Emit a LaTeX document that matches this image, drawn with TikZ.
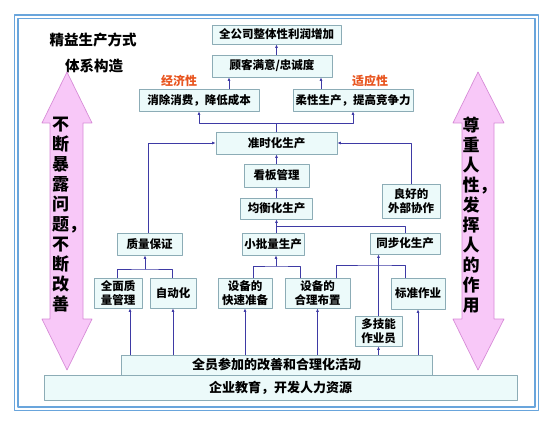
\documentclass[tikz,border=0pt]{standalone}
\usepackage{fontspec}
\setmainfont{Noto Sans CJK SC}
\usetikzlibrary{arrows.meta,calc}
\definecolor{linkblue}{RGB}{62,58,165}
\definecolor{boxedge}{RGB}{140,172,182}
\definecolor{boxfill}{RGB}{236,250,250}
\definecolor{framecol}{RGB}{105,165,220}
\definecolor{pinkfill}{RGB}{248,200,248}
\definecolor{pinkedge}{RGB}{215,140,215}
\definecolor{tagred}{RGB}{232,84,30}
\tikzset{
  >={Latex[length=3.5pt,width=3pt]},
  box/.style={draw=boxedge, fill=boxfill, line width=0.8pt, inner sep=0pt, align=center,
    font=\fontsize{11.5}{14.5}\selectfont\bfseries},
  widebox/.style={box, font=\fontsize{13}{15}\selectfont\bfseries},
  conn/.style={->, draw=linkblue, line width=0.9pt},
  link/.style={draw=linkblue, line width=0.9pt},
  tag/.style={text=tagred, font=\fontsize{12}{14}\selectfont\bfseries},
  headline/.style={font=\fontsize{14.5}{17}\selectfont\bfseries},
  bigarrow/.style={fill=pinkfill, draw=pinkedge, line width=0.7pt},
  vtext/.style={align=left, anchor=west, inner sep=0pt, font=\fontsize{17}{20}\selectfont\bfseries}
}

\begin{document}
\begin{tikzpicture}[x=1pt, y=-1pt, line cap=round, line join=round]
    \useasboundingbox (0,0) rectangle (554,425);

    % double frame
    \draw[framecol, line width=1.8pt] (14.5,15) rectangle (538.5,410.5);
    \draw[framecol, line width=1.8pt] (18,18.5) rectangle (535,407);

    \node[headline] (title) at (93,40) {精益生产方式};
    \node[headline] (subtitle) at (94,66) {体系构造};

    % side arrows
    \draw[bigarrow] (67,72) -- (92,123) -- (83,123) -- (83,319) -- (92,319)
        -- (67,370) -- (42,319) -- (50,319) -- (50,123) -- (42,123) -- cycle;
    \draw[bigarrow] (478,72) -- (504,123) -- (494,123) -- (494,319) -- (504,319)
        -- (478,370) -- (453,319) -- (462,319) -- (462,123) -- (453,123) -- cycle;
    \node[vtext] (leftmotto) at (52,215) {不\\断\\暴\\露\\问\\题，\\不\\断\\改\\善};
    \node[vtext] (rightmotto) at (462.5,215) {尊\\重\\人\\性，\\发\\挥\\人\\的\\作\\用};

    % goals
    \node[box, minimum width=129pt, minimum height=19pt] (profit) at (276.5,34.5) {全公司整体性利润增加};
    \node[box, minimum width=120pt, minimum height=22pt] (customer) at (272,66) {顾客满意/忠诚度};
    \node[box, minimum width=120pt, minimum height=22pt] (cost) at (199,100) {消除消费，降低成本};
    \node[box, minimum width=120pt, minimum height=22pt] (flex) at (353,100) {柔性生产，提高竞争力};
    \node[tag] (econ) at (179,81) {经济性};
    \node[tag] (adapt) at (370,81) {适应性};

    % pillars
    \node[box, minimum width=121pt, minimum height=22pt] (jit) at (276.5,143) {准时化生产};
    \node[box, minimum width=65pt, minimum height=23pt] (kanban) at (276.5,175.5) {看板管理};
    \node[box, minimum width=72pt, minimum height=21pt] (level) at (276.5,208.5) {均衡化生产};
    \node[box, minimum width=58pt, minimum height=34pt] (extern) at (411,201) {良好的\\外部协作};
    \node[box, minimum width=65pt, minimum height=22pt] (quality) at (149.5,244) {质量保证};
    \node[box, minimum width=62pt, minimum height=22pt] (smalllot) at (273,244) {小批量生产};
    \node[box, minimum width=70pt, minimum height=21pt] (sync) at (405,243.5) {同步化生产};

    % means
    \node[box, minimum width=48pt, minimum height=30pt] (tqm) at (118,293) {全面质\\量管理};
    \node[box, minimum width=46pt, minimum height=30pt] (jidoka) at (173,293) {自动化};
    \node[box, minimum width=54pt, minimum height=30pt] (setup) at (245,293) {设备的\\快速准备};
    \node[box, minimum width=65pt, minimum height=30pt] (layout) at (317.5,293) {设备的\\合理布置};
    \node[box, minimum width=54pt, minimum height=31pt] (stdwork) at (418,293.5) {标准作业};
    \node[box, minimum width=47pt, minimum height=30pt] (multi) at (378.5,331) {多技能\\作业员};

    % base
    \node[widebox, minimum width=473pt, minimum height=25pt] (edu) at (280.5,387.5) {企业教育，开发人力资源};
    \node[widebox, minimum width=311pt, minimum height=20pt] (kaizen) at (276.5,365) {全员参加的改善和合理化活动};

    % upper links
    \draw[conn] (profit.south |- customer.north) -- (profit.south);
    \coordinate (costup) at ([xshift=30pt]cost.north);
    \coordinate (flexup) at ([xshift=-32pt]flex.north);
    \draw[conn] (costup) -- (costup |- customer.south);
    \draw[conn] (flexup) -- (flexup |- customer.south);
    \coordinate (jitfork) at ([yshift=8pt]jit.north);
    \draw[link] (jit.north) -- (jitfork);
    \draw[conn] (jitfork) -| (cost.south);
    \draw[conn] (jitfork) -| (flex.south);

    \draw[conn] (kanban.north) -- (jit.south);
    \draw[conn] (level.north) -- (kanban.south);
    \draw[conn] (extern.north) |- (jit.east);
    \draw[conn] ([xshift=-1.5pt]quality.north) |- (jit.west);

    \coordinate (levelfork) at (276.5,226);
    \draw[conn] (smalllot.north -| levelfork) -- (level.south);
    \draw[link] (sync.north) |- (levelfork);

    % lower links
    \coordinate (qfork) at (145,269);
    \draw[link] ([xshift=-1pt]tqm.north) |- (qfork) -| ([xshift=-1pt]jidoka.north);
    \draw[conn] (qfork) -- (qfork |- quality.south);

    \coordinate (lotfork) at (276,266);
    \coordinate (setupup) at ([xshift=8pt]setup.north);
    \coordinate (layoutup) at ([xshift=-17.5pt]layout.north);
    \draw[link] (setupup) |- (lotfork) -| (layoutup);
    \draw[conn] (lotfork) -- (lotfork |- smalllot.south);

    \coordinate (syncfork) at (378.5,265);
    \coordinate (layoutright) at ([xshift=18.5pt]layout.north);
    \coordinate (stdup) at ([xshift=-13pt]stdwork.north);
    \draw[link] (layoutright) |- (syncfork) -| (stdup);
    \draw[conn] (multi.north) -- (multi.north |- sync.south);

    \coordinate (tqmin) at ([xshift=12pt]tqm.south);
    \draw[conn] (tqmin |- kaizen.north) -- (tqmin);
    \foreach \b in {jidoka,setup,layout,multi,stdwork}
        \draw[conn] (\b.south |- kaizen.north) -- (\b.south);
\end{tikzpicture}
\end{document}
